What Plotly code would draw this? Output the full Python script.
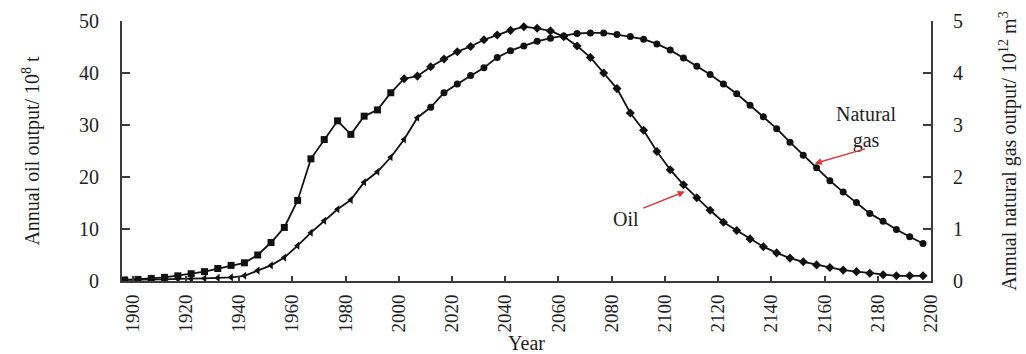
import plotly.graph_objects as go

# Years of the plotted points (every 5 years)
years = [1897, 1902, 1907, 1912, 1917, 1922, 1927, 1932, 1937, 1942,
         1947, 1952, 1957, 1962, 1967, 1972, 1977, 1982, 1987, 1992,
         1997, 2002, 2007, 2012, 2017, 2022, 2027, 2032, 2037, 2042,
         2047, 2052, 2057, 2062, 2067, 2072, 2077, 2082, 2087, 2092,
         2097, 2102, 2107, 2112, 2117, 2122, 2127, 2132, 2137, 2142,
         2147, 2152, 2157, 2162, 2167, 2172, 2177, 2182, 2187, 2192,
         2197]

# Annual oil output, 10^8 t (left axis)
oil = [0.2, 0.3, 0.5, 0.7, 1.0, 1.4, 1.8, 2.4, 3.0, 3.5,
       5.0, 7.4, 10.3, 15.5, 23.5, 27.2, 30.8, 28.2, 31.7, 32.9,
       36.2, 38.9, 39.4, 41.2, 42.7, 44.1, 45.1, 46.4, 47.3, 48.2,
       48.9, 48.6, 48.1, 47.0, 45.2, 43.0, 40.0, 37.0, 32.3, 29.0,
       24.9, 21.4, 18.5, 16.0, 13.6, 11.3, 9.7, 8.1, 6.6, 5.4,
       4.4, 3.7, 3.1, 2.6, 2.1, 1.8, 1.5, 1.2, 1.0, 1.0,
       1.0]

# Annual natural gas output, 10^12 m^3 (right axis)
gas = [0.02, 0.02, 0.03, 0.03, 0.04, 0.04, 0.05, 0.06, 0.07, 0.10,
       0.20, 0.30, 0.45, 0.68, 0.93, 1.16, 1.38, 1.56, 1.90, 2.10,
       2.38, 2.72, 3.14, 3.34, 3.62, 3.79, 3.95, 4.10, 4.30, 4.43,
       4.52, 4.61, 4.67, 4.71, 4.76, 4.77, 4.77, 4.74, 4.70, 4.65,
       4.56, 4.44, 4.29, 4.13, 3.97, 3.79, 3.60, 3.38, 3.16, 2.93,
       2.67, 2.42, 2.18, 1.93, 1.71, 1.51, 1.30, 1.15, 0.99, 0.85,
       0.72]

x_ticks = [1900, 1920, 1940, 1960, 1980, 2000, 2020, 2040, 2060, 2080,
           2100, 2120, 2140, 2160, 2180, 2200]
oil_ticks = [0, 10, 20, 30, 40, 50]
gas_ticks = [0, 1, 2, 3, 4, 5]

FONT = "Liberation Serif"
INK = "#1e1e1e"
AXC = "#3a3a3a"

oil_sym = ["square" if y < 2000 else "diamond" for y in years]
gas_sym = ["triangle-left" if y < 2010 else "circle" for y in years]

fig = go.Figure()
fig.add_trace(go.Scatter(
    x=years, y=oil, mode="lines+markers", name="Oil",
    line=dict(color="#111111", width=1.8),
    marker=dict(symbol=oil_sym, size=7, color="#111111"),
    yaxis="y"))
fig.add_trace(go.Scatter(
    x=years, y=gas, mode="lines+markers", name="Natural gas",
    line=dict(color="#111111", width=1.8),
    marker=dict(symbol=gas_sym, size=7, color="#111111"),
    yaxis="y2"))

axis_common = dict(showgrid=False, zeroline=False, showline=True,
                   linecolor=AXC, linewidth=2, ticks="inside",
                   tickcolor=AXC, tickwidth=1.5, automargin=False)

fig.update_layout(
    width=1026, height=354,
    margin=dict(l=122, r=95, t=21, b=73),
    paper_bgcolor="white", plot_bgcolor="white",
    showlegend=False,
    xaxis=dict(range=[1896, 2200], tickvals=x_ticks, tickangle=-90,
               ticklen=5, ticklabelstandoff=4,
               tickfont=dict(family=FONT, size=19, color=INK),
               title=dict(text="Year", standoff=14,
                          font=dict(family=FONT, size=20, color=INK)),
               **axis_common),
    yaxis=dict(range=[0, 50], tickvals=oil_ticks, ticklen=8,
               ticklabelstandoff=17,
               tickfont=dict(family=FONT, size=20, color=INK),
               title=dict(text="Annual oil output/ 10<sup>8</sup> t",
                          standoff=34,
                          font=dict(family=FONT, size=20, color=INK)),
               **axis_common),
    yaxis2=dict(range=[0, 5], tickvals=gas_ticks, ticklen=8,
                overlaying="y", side="right", anchor="x",
                ticklabelstandoff=16,
                tickfont=dict(family=FONT, size=20, color=INK),
                title=dict(text="Annual natural gas output/ 10<sup>12</sup> m<sup>3</sup>",
                           standoff=40,
                           font=dict(family=FONT, size=20, color=INK)),
                **axis_common),
)

RED = "#d83a3a"
# Oil label and arrow
fig.add_annotation(x=2085.3, y=12.0, xref="x", yref="y", text="Oil",
                   showarrow=False, font=dict(family=FONT, size=20, color=INK))
fig.add_annotation(x=2107.5, y=17.2, xref="x", yref="y", text="",
                   showarrow=True, axref="x", ayref="y", ax=2091.3, ay=13.9,
                   arrowcolor=RED, arrowwidth=1.4, arrowhead=2, arrowsize=1)
# Natural gas label and arrow
fig.add_annotation(x=2175.4, y=29.6, xref="x", yref="y", text="Natural<br>gas",
                   showarrow=False, font=dict(family=FONT, size=20, color=INK))
fig.add_annotation(x=2156.3, y=22.6, xref="x", yref="y", text="",
                   showarrow=True, axref="x", ayref="y", ax=2175.8, ay=25.5,
                   arrowcolor=RED, arrowwidth=1.4, arrowhead=2, arrowsize=1)

fig.write_html("out.html")
